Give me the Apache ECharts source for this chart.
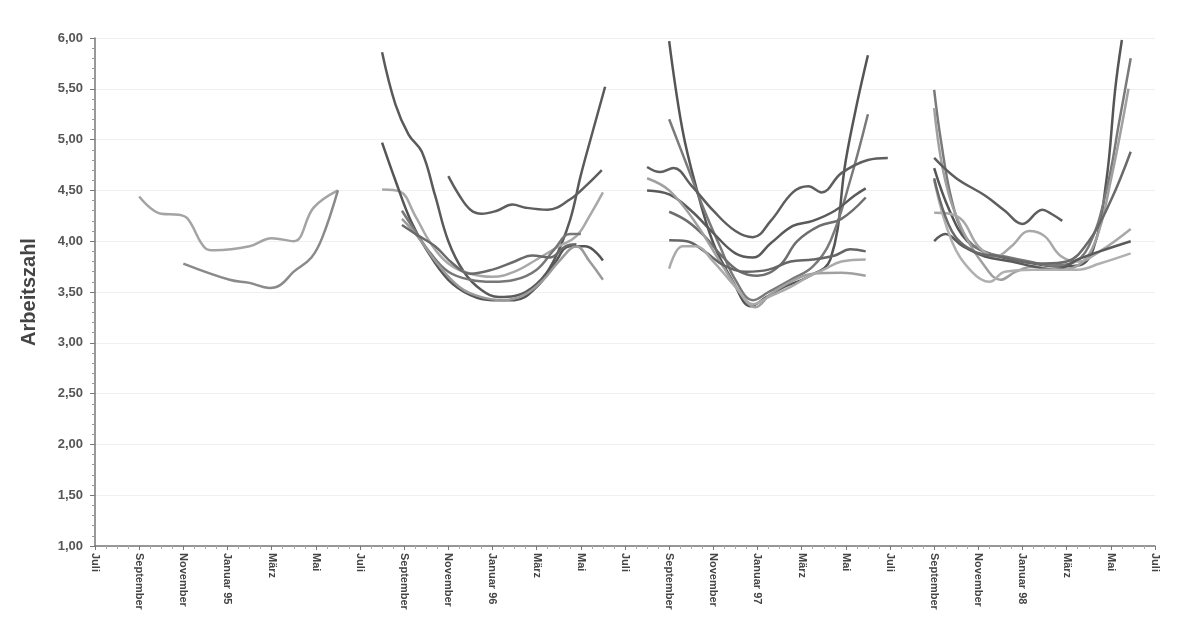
<!DOCTYPE html>
<html>
<head>
<meta charset="utf-8">
<script src="https://cdn.jsdelivr.net/npm/echarts@6/dist/echarts.min.js"></script>
<style>
  html, body { margin: 0; padding: 0; background: #fff; }
  #app { width: 1190px; height: 627px; }
</style>
</head>
<body>
<div id="app"></div>
<script>
// Monatsbeschriftung (jeder zweite Monat ab Juli 94)
const tickLabels = [
  "Juli", "September", "November", "Januar 95", "März", "Mai",
  "Juli", "September", "November", "Januar 96", "März", "Mai",
  "Juli", "September", "November", "Januar 97", "März", "Mai",
  "Juli", "September", "November", "Januar 98", "März", "Mai", "Juli"
];

// Werte: [Monat seit Juli 94, Arbeitszahl]
// Heizperiode 94/95
const s1a = [[2.0, 4.44], [3.0, 4.27], [3.8, 4.26], [4.2, 4.22], [5.0, 3.93], [5.4, 3.91], [7.0, 3.95], [8.0, 4.03], [9.0, 4.0], [9.9, 4.33], [11.0, 4.50]];
const s1b = [[4.0, 3.78], [6.1, 3.62], [7.0, 3.59], [7.9, 3.54], [8.4, 3.57], [9.0, 3.70], [9.8, 3.84], [10.3, 4.04], [11.0, 4.50]];

// Heizperiode 95/96
const s2a = [[13.0, 5.86], [13.6, 5.35], [14.2, 5.05], [14.8, 4.88], [15.4, 4.45], [16.0, 4.0], [16.7, 3.7], [17.5, 3.52], [18.3, 3.45], [19.0, 3.46], [20.0, 3.58], [20.8, 3.82], [21.5, 4.2], [22.0, 4.65], [22.5, 5.05], [23.1, 5.52]];
const s2b = [[16.0, 4.64], [16.5, 4.45], [17.0, 4.31], [17.5, 4.27], [18.2, 4.30], [18.9, 4.36], [19.5, 4.33], [20.5, 4.31], [21.5, 4.41], [22.3, 4.56], [22.95, 4.70]];
const s2c = [[13.0, 4.51], [13.8, 4.49], [14.5, 4.25], [15.2, 3.98], [16.0, 3.78], [17.0, 3.68], [18.0, 3.65], [19.0, 3.70], [20.0, 3.82], [21.0, 3.95], [21.8, 4.05], [22.4, 4.25], [23.0, 4.48]];
const s2d = [[13.0, 4.97], [13.6, 4.6], [14.3, 4.2], [15.0, 3.92], [16.0, 3.62], [17.0, 3.47], [18.0, 3.42], [19.0, 3.42], [20.0, 3.55], [20.8, 3.78], [21.5, 3.95], [22.2, 3.95], [23.0, 3.81]];
const s2e = [[13.9, 4.30], [14.5, 4.1], [15.2, 3.88], [16.0, 3.7], [17.0, 3.62], [18.0, 3.60], [19.0, 3.62], [20.0, 3.72], [20.8, 3.92], [21.5, 4.07], [22.0, 4.07]];
const s2f = [[13.9, 4.22], [14.6, 4.05], [15.5, 3.78], [16.5, 3.55], [17.5, 3.45], [18.5, 3.42], [19.5, 3.48], [20.3, 3.62], [21.0, 3.80], [21.8, 3.95], [22.4, 3.80], [23.0, 3.62]];
const s2g = [[13.9, 4.16], [14.6, 4.06], [15.4, 3.95], [16.2, 3.78], [17.0, 3.68], [18.0, 3.72], [19.0, 3.80], [19.8, 3.86], [20.6, 3.84], [21.3, 3.95], [21.8, 3.97]];

// Heizperiode 96/97
const s3a = [[26.0, 5.97], [26.6, 5.1], [27.2, 4.55], [28.0, 3.98], [28.9, 3.6], [29.7, 3.36], [30.4, 3.45], [31.2, 3.55], [32.3, 3.65], [33.3, 3.82], [34.0, 4.8], [34.5, 5.35], [35.0, 5.83]];
const s3b = [[26.0, 5.20], [26.8, 4.75], [27.6, 4.3], [28.3, 3.95], [29.0, 3.62], [29.8, 3.42], [30.5, 3.5], [31.5, 3.62], [32.5, 3.75], [33.3, 4.0], [34.2, 4.6], [35.0, 5.25]];
const s3c = [[25.0, 4.73], [25.6, 4.68], [26.2, 4.72], [27.0, 4.55], [28.0, 4.3], [29.0, 4.1], [29.8, 4.04], [30.6, 4.2], [31.6, 4.48], [32.3, 4.54], [32.9, 4.48], [33.8, 4.67], [35.0, 4.80], [35.9, 4.82]];
const s3d = [[25.0, 4.50], [26.0, 4.46], [27.0, 4.3], [28.0, 4.08], [29.0, 3.88], [29.8, 3.84], [30.6, 3.98], [31.6, 4.15], [32.5, 4.2], [33.5, 4.3], [34.4, 4.45], [34.9, 4.52]];
const s3e = [[26.0, 4.29], [26.8, 4.2], [27.6, 4.05], [28.4, 3.85], [29.2, 3.7], [30.0, 3.66], [31.0, 3.76], [31.8, 4.0], [32.8, 4.15], [33.8, 4.22], [34.9, 4.43]];
const s3f = [[25.0, 4.62], [26.0, 4.5], [27.2, 4.18], [28.3, 3.8], [29.2, 3.5], [29.9, 3.35], [30.6, 3.48], [31.5, 3.6], [32.5, 3.68], [33.8, 3.69], [34.9, 3.66]];
const s3g = [[26.0, 4.01], [26.8, 4.0], [27.6, 3.9], [28.5, 3.76], [29.5, 3.70], [30.5, 3.72], [31.5, 3.8], [32.5, 3.82], [33.5, 3.86], [34.2, 3.92], [34.9, 3.90]];
const s3h = [[26.0, 3.73], [26.6, 3.95], [27.2, 3.95], [28.0, 3.8], [29.0, 3.55], [29.8, 3.38], [30.5, 3.45], [31.5, 3.55], [32.3, 3.65], [33.0, 3.72], [33.8, 3.80], [34.9, 3.82]];

// Heizperiode 97/98
const s4a = [[38.0, 4.72], [38.7, 4.3], [39.5, 4.0], [40.5, 3.88], [41.5, 3.82], [42.5, 3.78], [43.5, 3.75], [44.5, 3.76], [45.2, 3.92], [45.8, 4.6], [46.2, 5.5], [46.5, 5.98]];
const s4b = [[38.0, 5.49], [38.3, 5.0], [38.8, 4.4], [39.4, 4.05], [40.2, 3.9], [41.2, 3.85], [42.3, 3.8], [43.3, 3.76], [44.2, 3.78], [45.0, 3.95], [45.8, 4.5], [46.4, 5.2], [46.9, 5.80]];
const s4c = [[38.0, 5.31], [38.5, 4.6], [39.3, 4.1], [40.3, 3.75], [41.0, 3.62], [41.7, 3.7], [42.5, 3.75], [43.5, 3.72], [44.5, 3.76], [45.3, 4.0], [46.0, 4.6], [46.8, 5.5]];
const s4d = [[38.0, 4.82], [39.0, 4.62], [40.3, 4.45], [41.2, 4.3], [42.0, 4.17], [42.9, 4.31], [43.3, 4.27], [43.8, 4.20]];
const s4e = [[38.0, 4.28], [38.7, 4.27], [39.3, 4.2], [40.0, 3.95], [40.8, 3.85], [41.5, 3.95], [42.3, 4.1], [43.0, 4.05], [43.7, 3.86], [44.5, 3.8], [45.5, 3.9], [46.9, 4.12]];
const s4f = [[38.0, 4.0], [38.5, 4.07], [39.3, 3.95], [40.3, 3.85], [41.5, 3.8], [42.5, 3.75], [43.5, 3.72], [44.5, 3.82], [45.5, 3.9], [46.9, 4.0]];
const s4g = [[38.0, 4.6], [38.8, 4.0], [39.7, 3.7], [40.5, 3.6], [41.2, 3.7], [42.5, 3.72], [43.5, 3.72], [44.5, 3.72], [45.5, 3.78], [46.9, 3.88]];
const s4h = [[38.0, 4.62], [38.8, 4.1], [39.8, 3.9], [41.0, 3.85], [42.0, 3.8], [43.0, 3.78], [44.0, 3.8], [45.0, 4.0], [46.0, 4.4], [46.9, 4.88]];

// Linie und Grauton je Kurve
const curves = [
  [s1a, "#a4a4a4"], [s1b, "#8a8a8a"],
  [s2a, "#5a5a5a"], [s2b, "#5e5e5e"], [s2c, "#a8a8a8"], [s2d, "#555555"], [s2e, "#777777"], [s2f, "#9a9a9a"], [s2g, "#6a6a6a"],
  [s3a, "#555555"], [s3b, "#7a7a7a"], [s3c, "#5e5e5e"], [s3d, "#5a5a5a"], [s3e, "#6e6e6e"], [s3f, "#a0a0a0"], [s3g, "#666666"], [s3h, "#aaaaaa"],
  [s4a, "#555555"], [s4b, "#7a7a7a"], [s4c, "#a0a0a0"], [s4d, "#5e5e5e"], [s4e, "#a8a8a8"], [s4f, "#5a5a5a"], [s4g, "#b0b0b0"], [s4h, "#6a6a6a"]
];

const myChart = echarts.init(document.getElementById("app"));
const option = {
  animation: false,
  backgroundColor: "#fff",
  grid: { left: 95, right: 35, top: 38, bottom: 81 },
  xAxis: {
    type: "value",
    min: 0,
    max: 48,
    interval: 2,
    axisLine: { show: true, onZero: false, lineStyle: { color: "#777", width: 1.5 } },
    axisTick: { show: true, length: 4, lineStyle: { color: "#777" } },
    minorTick: { show: true, splitNumber: 4, length: 3, lineStyle: { color: "#aaa" } },
    splitLine: { show: false },
    axisLabel: {
      rotate: -90,
      margin: 7,
      fontSize: 11,
      fontWeight: "bold",
      fontFamily: "Liberation Sans, Arial, sans-serif",
      color: "#444",
      formatter: v => tickLabels[Math.round(v / 2)] || ""
    }
  },
  yAxis: {
    type: "value",
    min: 1,
    max: 6,
    interval: 0.5,
    name: "Arbeitszahl",
    nameLocation: "middle",
    nameRotate: 90,
    nameGap: 56,
    nameTextStyle: { fontSize: 20, fontWeight: "bold", color: "#444", fontFamily: "Liberation Sans, Arial, sans-serif" },
    axisLine: { show: true, lineStyle: { color: "#777", width: 1.5 } },
    axisTick: { show: true, length: 5, lineStyle: { color: "#777" } },
    minorTick: { show: true, splitNumber: 5, length: 3, lineStyle: { color: "#999" } },
    splitLine: { show: true, lineStyle: { color: "#f0f0f0", width: 1 } },
    axisLabel: {
      margin: 12,
      fontSize: 13,
      fontWeight: "bold",
      fontFamily: "Liberation Sans, Arial, sans-serif",
      color: "#555",
      formatter: v => v.toFixed(2).replace(".", ",")
    }
  },
  series: curves.map(([data, color]) => ({
    type: "line",
    data,
    smooth: 0.4,
    showSymbol: false,
    lineStyle: { color, width: 2.5 }
  }))
};
myChart.setOption(option);
</script>
</body>
</html>
